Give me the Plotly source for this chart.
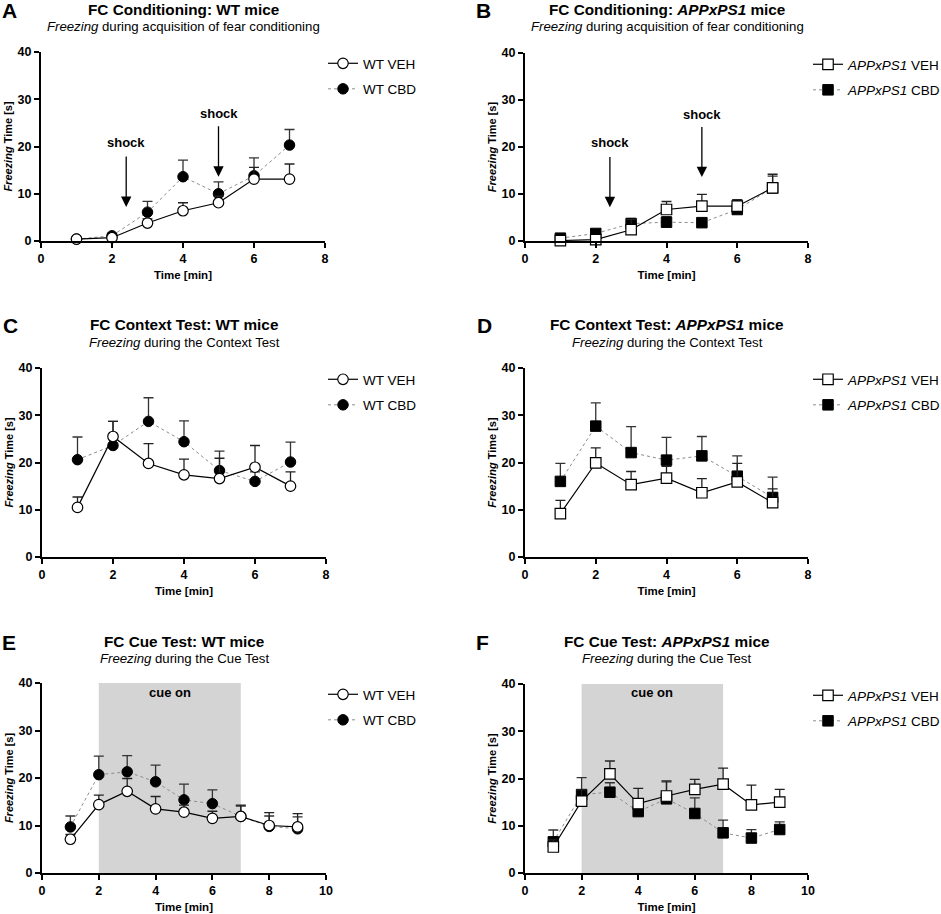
import plotly.graph_objects as go

W, H = 941, 914

# ---------------- data ----------------
time_7 = [1, 2, 3, 4, 5, 6, 7]
time_9 = [1, 2, 3, 4, 5, 6, 7, 8, 9]

# A: FC conditioning WT
wt_veh_cond = [0.4, 0.7, 3.8, 6.4, 8.1, 13.1, 13.1]
wt_veh_cond_err = [0.3, 0.4, 0.9, 1.7, 1.4, 2.5, 3.2]
wt_cbd_cond = [0.4, 1.1, 6.1, 13.6, 10.0, 13.8, 20.3]
wt_cbd_cond_err = [0.3, 0.5, 2.3, 3.5, 2.5, 3.8, 3.3]

# B: FC conditioning APPxPS1
app_veh_cond = [0.1, 0.3, 2.4, 6.7, 7.4, 7.4, 11.3]
app_veh_cond_err = [0.3, 0.3, 2.2, 1.7, 2.5, 1.4, 2.9]
app_cbd_cond = [0.6, 1.6, 3.7, 4.0, 3.9, 6.7, 11.3]
app_cbd_cond_err = [0.3, 0.4, 1.1, 1.2, 0.6, 2.0, 2.5]

# C: context WT
wt_veh_ctx = [10.5, 25.5, 19.8, 17.4, 16.6, 19.0, 15.0]
wt_veh_ctx_err = [2.2, 3.2, 4.2, 3.3, 4.3, 4.6, 3.0]
wt_cbd_ctx = [20.6, 23.6, 28.7, 24.4, 18.3, 16.0, 20.1]
wt_cbd_ctx_err = [4.8, 5.1, 5.0, 4.4, 4.1, 2.0, 4.2]

# D: context APPxPS1
app_veh_ctx = [9.2, 19.9, 15.3, 16.7, 13.6, 15.9, 11.5]
app_veh_ctx_err = [2.8, 3.2, 2.8, 2.5, 3.0, 3.9, 2.9]
app_cbd_ctx = [16.0, 27.7, 22.1, 20.5, 21.4, 17.1, 12.6]
app_cbd_ctx_err = [3.8, 4.9, 5.5, 4.8, 4.1, 4.3, 4.3]

# E: cue WT
wt_veh_cue = [7.1, 14.4, 17.2, 13.5, 12.8, 11.5, 11.9, 10.0, 9.7]
wt_veh_cue_err = [1.0, 2.0, 2.7, 2.6, 1.5, 1.5, 2.4, 2.7, 2.8]
wt_cbd_cue = [9.7, 20.7, 21.3, 19.2, 15.4, 14.6, 11.9, 9.8, 9.3]
wt_cbd_cue_err = [2.3, 3.9, 3.4, 3.5, 3.3, 2.9, 2.2, 2.2, 2.5]

# F: cue APPxPS1
app_veh_cue = [5.5, 15.2, 21.0, 14.7, 16.3, 17.7, 18.8, 14.4, 15.0]
app_veh_cue_err = [1.5, 2.4, 2.7, 3.2, 3.2, 2.1, 3.4, 4.2, 2.7]
app_cbd_cue = [6.6, 16.6, 17.1, 13.0, 15.7, 12.6, 8.5, 7.4, 9.2]
app_cbd_cue_err = [2.5, 3.6, 2.0, 2.0, 3.6, 3.3, 2.7, 1.8, 1.6]

shock_times = [2.4, 5.0]
shock_tip = [7.2, 13.6]
shock_tail = [18.2, 24.6]
shock_label_y = [20.9, 27.0]
cue_window = [2, 7]

FONT = "Arial, Liberation Sans, sans-serif"

def px_x(p):
    return p / W

def px_y(p):
    return 1 - p / H

# panel geometry in pixels: (x0, x1, ytop, ybottom)
panels = {
    "A": (41, 325, 52, 241),
    "B": (525, 808, 53, 241),
    "C": (42, 326, 368, 557),
    "D": (525, 808, 368, 557),
    "E": (42, 326, 683, 873),
    "F": (525, 808, 684, 873),
}

fig = go.Figure()
layout = dict(
    width=W, height=H, margin=dict(l=0, r=0, t=0, b=0, autoexpand=False),
    paper_bgcolor="white", plot_bgcolor="rgba(0,0,0,0)",
    font=dict(family=FONT, color="black"),
    showlegend=True,
)

annotations = []
shapes = []

panel_specs = [
    ("A", time_7, wt_veh_cond, wt_veh_cond_err, wt_cbd_cond, wt_cbd_cond_err, "circle", "WT", 8,
     "<b>FC Conditioning: WT mice</b>", "<i>Freezing</i> during acquisition of fear conditioning"),
    ("B", time_7, app_veh_cond, app_veh_cond_err, app_cbd_cond, app_cbd_cond_err, "square", "<i>APPxPS1</i>", 8,
     "<b>FC Conditioning: <i>APPxPS1</i> mice</b>", "<i>Freezing</i> during acquisition of fear conditioning"),
    ("C", time_7, wt_veh_ctx, wt_veh_ctx_err, wt_cbd_ctx, wt_cbd_ctx_err, "circle", "WT", 8,
     "<b>FC Context Test: WT mice</b>", "<i>Freezing</i> during the Context Test"),
    ("D", time_7, app_veh_ctx, app_veh_ctx_err, app_cbd_ctx, app_cbd_ctx_err, "square", "<i>APPxPS1</i>", 8,
     "<b>FC Context Test: <i>APPxPS1</i> mice</b>", "<i>Freezing</i> during the Context Test"),
    ("E", time_9, wt_veh_cue, wt_veh_cue_err, wt_cbd_cue, wt_cbd_cue_err, "circle", "WT", 10,
     "<b>FC Cue Test: WT mice</b>", "<i>Freezing</i> during the Cue Test"),
    ("F", time_9, app_veh_cue, app_veh_cue_err, app_cbd_cue, app_cbd_cue_err, "square", "<i>APPxPS1</i>", 10,
     "<b>FC Cue Test: <i>APPxPS1</i> mice</b>", "<i>Freezing</i> during the Cue Test"),
]

for i, (key, xs, veh, veh_err, cbd, cbd_err, sym, prefix, xmax, title, subtitle) in enumerate(panel_specs):
    n = i + 1
    xa = "x" if n == 1 else f"x{n}"
    ya = "y" if n == 1 else f"y{n}"
    lg = "legend" if n == 1 else f"legend{n}"
    x0, x1, yt, yb = panels[key]

    layout["xaxis" if n == 1 else f"xaxis{n}"] = dict(
        domain=[px_x(x0), px_x(x1)], anchor=ya, range=[0, xmax], dtick=2,
        showline=True, linecolor="black", linewidth=2, ticks="outside",
        ticklen=5, tickwidth=2, tickcolor="black", showgrid=False, zeroline=False,
        tickfont=dict(size=12.5, family=FONT, weight="bold"),
        title=dict(text="<b>Time [min]</b>", font=dict(size=11.5, family=FONT), standoff=6),
    )
    layout["yaxis" if n == 1 else f"yaxis{n}"] = dict(
        domain=[px_y(yb), px_y(yt)], anchor=xa, range=[0, 40], dtick=10,
        showline=True, linecolor="black", linewidth=2, ticks="outside",
        ticklen=5, tickwidth=2, tickcolor="black", showgrid=False, zeroline=False,
        tickfont=dict(size=12.5, family=FONT, weight="bold"),
        title=dict(text="<b><i>Freezing</i> Time [s]</b>", font=dict(size=11, family=FONT), standoff=3),
    )

    # CBD drawn first (below), VEH on top
    fig.add_trace(go.Scatter(
        x=xs, y=cbd, xaxis=xa, yaxis=ya, legend=lg, legendrank=2,
        legendgroup=f"{key}cbd", name=f"{prefix} CBD",
        mode="lines+markers", cliponaxis=False,
        line=dict(color="#8c8c8c", width=1, dash="dot"),
        marker=dict(symbol=sym, size=10.5, color="black", line=dict(color="black", width=1)),
        error_y=dict(type="data", symmetric=False, array=cbd_err, arrayminus=[0] * len(cbd_err),
                     color="#333333", thickness=1.3, width=5),
    ))
    fig.add_trace(go.Scatter(
        x=xs, y=veh, xaxis=xa, yaxis=ya, legend=lg, legendrank=1,
        legendgroup=f"{key}veh", name=f"{prefix} VEH",
        mode="lines+markers", cliponaxis=False,
        line=dict(color="black", width=1.2),
        marker=dict(symbol=sym, size=10.5, color="white", line=dict(color="black", width=1.2)),
        error_y=dict(type="data", symmetric=False, array=veh_err, arrayminus=[0] * len(veh_err),
                     color="#222222", thickness=1.3, width=5),
    ))

    text_start = 365 if key in "ACE" else 850
    layout[lg] = dict(
        x=px_x(text_start - 42), y=px_y(yt - 4), xanchor="left", yanchor="top",
        bgcolor="rgba(0,0,0,0)", font=dict(size=13.5, family=FONT),
        tracegroupgap=5, itemwidth=30,
    )

    title_x = {"A": 183, "B": 667, "C": 184, "D": 667, "E": 184, "F": 666}[key]
    title_y = {"A": 9.5, "B": 9.5, "C": 325, "D": 325, "E": 641, "F": 641}[key]
    letter_x = {"A": 9, "B": 483, "C": 10, "D": 484, "E": 9, "F": 482}[key]
    annotations.append(dict(text=title, x=px_x(title_x), y=px_y(title_y), xref="paper", yref="paper",
                            showarrow=False, xanchor="center", yanchor="middle",
                            font=dict(size=15.3, family=FONT)))
    annotations.append(dict(text=subtitle, x=px_x(title_x), y=px_y(title_y + 17), xref="paper", yref="paper",
                            showarrow=False, xanchor="center", yanchor="middle",
                            font=dict(size=13.2, family=FONT)))
    annotations.append(dict(text=f"<b>{key}</b>", x=px_x(letter_x), y=px_y(title_y + 1), xref="paper", yref="paper",
                            showarrow=False, xanchor="center", yanchor="middle",
                            font=dict(size=21, family=FONT)))

    if key in "AB":
        for st, tip, tail, ly in zip(shock_times, shock_tip, shock_tail, shock_label_y):
            annotations.append(dict(text="", x=st, y=tip, ax=st, ay=tail, xref=xa, yref=ya,
                                    axref=xa, ayref=ya, showarrow=True, arrowhead=2,
                                    arrowsize=1.6, arrowwidth=1.3, arrowcolor="black", standoff=0))
            annotations.append(dict(text="<b>shock</b>", x=st, y=ly, xref=xa, yref=ya,
                                    showarrow=False, font=dict(size=13, family=FONT)))
    if key in "EF":
        shapes.append(dict(type="rect", xref=xa, yref=ya, x0=cue_window[0], x1=cue_window[1],
                           y0=0, y1=40.5, fillcolor="#d4d4d4", line=dict(width=0), layer="below"))
        annotations.append(dict(text="<b>cue on</b>", x=(cue_window[0] + cue_window[1]) / 2,
                                y=38.1, xref=xa, yref=ya, showarrow=False,
                                font=dict(size=13, family=FONT)))

layout["annotations"] = annotations
layout["shapes"] = shapes
fig.update_layout(**layout)
fig.write_html(
    "out.html",
    config={"displayModeBar": False},
    post_script="document.body.style.margin='0';document.body.style.overflow='hidden';",
)
